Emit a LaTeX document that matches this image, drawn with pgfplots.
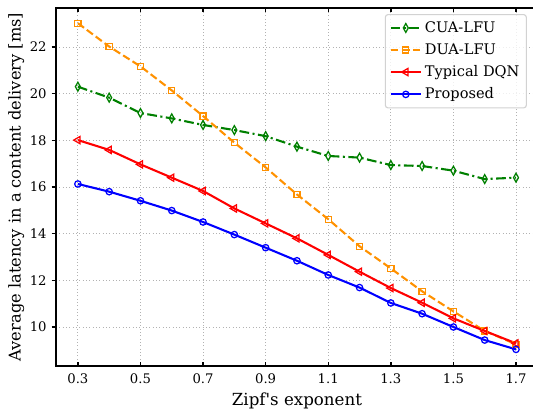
\documentclass[border=0pt]{standalone}
\usepackage{fontspec}
\setmainfont{DejaVu Serif}[Ligatures=TeXOff]
\usepackage{pgfplots}
\pgfplotsset{compat=1.18}
\definecolor{mgreen}{RGB}{0,128,0}
\definecolor{morange}{RGB}{255,145,0}
\begin{document}
\begin{tikzpicture}
\useasboundingbox (-40.3pt,-32.4pt) rectangle (343.46pt,263.5pt);
\begin{axis}[
  at={(0,0)}, anchor=south west,
  scale only axis, width=347pt, height=257.7pt,
  xmin=0.23, xmax=1.77, ymin=8.33, ymax=23.67,
  xtick={0.3,0.5,0.7,0.9,1.1,1.3,1.5,1.7},
  xticklabels={0.3,0.5,0.7,0.9,1.1,1.3,1.5,1.7},
  ytick={10,12,14,16,18,20,22},
  yticklabels={10,12,14,16,18,20,22},
  xtick align=inside, ytick align=outside, major tick length=3.2pt,
  grid=major, grid style={dotted, gray!60, line width=0.6pt},
  axis line style={line width=1.6pt},
  every tick/.style={black, line width=1pt},
  ticklabel style={font=\fontsize{9.5}{11}\selectfont},
  xticklabel style={yshift=-2pt},
  xlabel={Zipf's exponent},
  ylabel={Average latency in a content delivery [ms]},
  xlabel style={font=\fontsize{12}{14}\selectfont, at={(axis description cs:0.5,-0.0753)}, anchor=north, inner sep=0pt},
  ylabel style={font=\fontsize{11.7}{14}\selectfont, at={(axis description cs:-0.0994,0.5)}, anchor=north, inner sep=0pt},
  legend style={at={(1,1)}, anchor=north east, xshift=-7.9pt, yshift=-4.3pt,
    draw=gray!35, rounded corners=2pt, fill=white, fill opacity=0.8, text opacity=1,
    font=\fontsize{10.5}{12.6}\selectfont, row sep=2.6pt, inner sep=3pt, line width=0.8pt},
  legend cell align=left,
  legend image code/.code={\draw[mark repeat=2,mark phase=2] plot coordinates {(0pt,0pt) (11pt,0pt) (22pt,0pt)};},
  every axis plot/.append style={line width=1.5pt},
]
\addplot[color=mgreen, dash pattern=on 7pt off 2.5pt on 1.5pt off 2.5pt, mark=diamond, mark size=3.2pt, mark options={solid, fill=none, line width=0.9pt, xscale=0.75}]
coordinates {(0.3,20.30)(0.4,19.83)(0.5,19.17)(0.6,18.94)(0.7,18.66)(0.8,18.44)(0.9,18.18)(1.0,17.73)(1.1,17.33)(1.2,17.26)(1.3,16.94)(1.4,16.90)(1.5,16.70)(1.6,16.34)(1.7,16.40)};
\addlegendentry{CUA-LFU}
\addplot[color=morange, dash pattern=on 5.5pt off 2.5pt, mark=square, mark size=2.2pt, mark options={solid, fill=none, line width=0.9pt}]
coordinates {(0.3,23.02)(0.4,22.02)(0.5,21.17)(0.6,20.14)(0.7,19.04)(0.8,17.90)(0.9,16.84)(1.0,15.68)(1.1,14.62)(1.2,13.46)(1.3,12.51)(1.4,11.53)(1.5,10.67)(1.6,9.83)(1.7,9.26)};
\addlegendentry{DUA-LFU}
\addplot[color=red, solid, mark=triangle, mark size=3pt, mark options={solid, rotate=90, fill=none, line width=0.9pt}]
coordinates {(0.3,18.01)(0.4,17.59)(0.5,16.97)(0.6,16.40)(0.7,15.83)(0.8,15.08)(0.9,14.44)(1.0,13.80)(1.1,13.09)(1.2,12.37)(1.3,11.67)(1.4,11.04)(1.5,10.37)(1.6,9.83)(1.7,9.30)};
\addlegendentry{Typical DQN}
\addplot[color=blue, solid, mark=o, mark size=2.3pt, mark options={solid, fill=none, line width=0.9pt}]
coordinates {(0.3,16.13)(0.4,15.80)(0.5,15.41)(0.6,14.99)(0.7,14.50)(0.8,13.96)(0.9,13.40)(1.0,12.84)(1.1,12.23)(1.2,11.69)(1.3,11.03)(1.4,10.57)(1.5,10.00)(1.6,9.44)(1.7,9.04)};
\addlegendentry{Proposed}
\end{axis}
\end{tikzpicture}
\end{document}
